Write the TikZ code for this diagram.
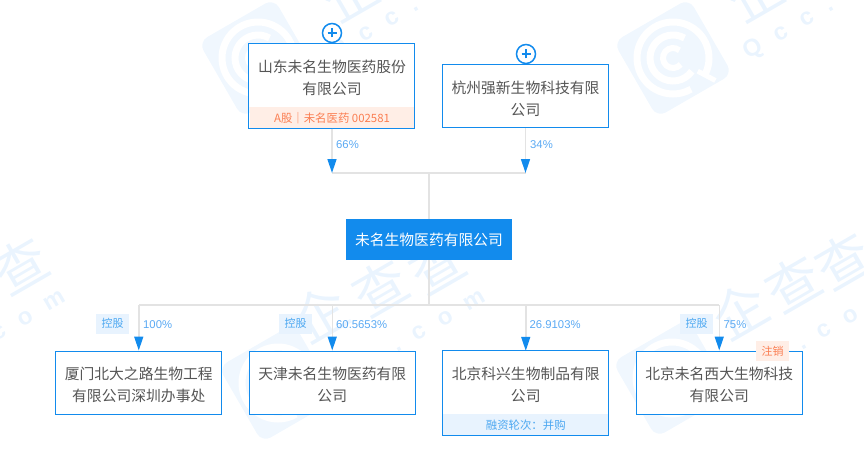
\documentclass[tikz,border=0pt]{standalone}
\usepackage{fontspec}
\setmainfont{Liberation Sans}
\newfontfamily\cjk{Noto Sans CJK SC}
\usetikzlibrary{arrows.meta}
\definecolor{qblue}{HTML}{128BED}
\definecolor{qtext}{HTML}{555555}
\definecolor{qline}{HTML}{E3E3E3}
\definecolor{qpct}{HTML}{5AA9F3}
\definecolor{qorange}{HTML}{FB7E52}
\definecolor{qorangebg}{HTML}{FFEEE6}
\definecolor{qbluebg}{HTML}{E8F3FE}
\definecolor{qmark}{HTML}{F0F7FE}
\definecolor{qmarktext}{HTML}{EAF4FE}
\tikzset{
    namebox/.style={minimum width=166pt, minimum height=63pt, inner sep=0pt, text width=152pt, text height=11pt, text depth=17pt, align=center, text=qtext, font=\cjk\fontsize{14.8}{22.4}\selectfont},
    framed/.style={namebox, draw=qblue, line width=1pt, fill=white},
    stripbox/.style={minimum width=165pt, minimum height=21pt, inner sep=0pt, font=\cjk\fontsize{11.4}{13}\selectfont},
    link/.style={draw=qline, line width=1.5pt},
    arrowlink/.style={link, -{Triangle[width=9pt, length=14pt, color=qblue]}},
    pct/.style={text=qpct, font=\fontsize{11.3}{13}\selectfont, inner sep=0pt, anchor=west},
    holdtag/.style={fill=qbluebg, text=qblue!75, minimum width=33pt, minimum height=20pt, inner sep=0pt, font=\cjk\fontsize{11}{13}\selectfont},
    plusmark/.style={circle, draw=qblue, fill=white, line width=1.5pt, minimum size=19pt, inner sep=0pt, path picture={
        \draw[qblue, line width=1.5pt] (path picture bounding box.center) ++(-4.5pt,0) -- ++(9pt,0);
        \draw[qblue, line width=1.5pt] (path picture bounding box.center) ++(0,-4.5pt) -- ++(0,9pt);}},
    markword/.style={text=qmarktext, inner sep=0pt, font=\fontsize{24}{24}\selectfont\bfseries\addfontfeature{LetterSpace=66}, rotate=30},
    markglyph/.style={text=qmarktext, inner sep=0pt, font=\cjk\fontsize{54}{54}\selectfont, rotate=30},
    markpad/.style={fill=qmark, rounded corners=10pt, minimum size=87pt, inner sep=0pt, rotate=30},
    markring/.style={draw=white, line width=7pt}
}
\begin{document}
\begin{tikzpicture}[x=1pt, y=-1pt, node distance=193.5pt]
    \useasboundingbox (0,0) rectangle (864,468);
    % watermark
    \foreach \px/\py/\pname in {258/58/A, 673/58/B, 278/383/C, 672/378/D} {
        \node (pad\pname) [markpad] at (\px,\py) {};
        \draw[markring] (pad\pname.center) ++(-30:36pt) arc[start angle=-30, end angle=300, radius=36pt];
        \draw[markring] (pad\pname.center) ++(-35:23pt) arc[start angle=-35, end angle=-300, radius=23pt];
        \draw[markring, line width=6pt] (pad\pname.center) ++(-40:10pt) arc[start angle=-40, end angle=-310, radius=10pt];
        \draw[markring, line width=5pt] (pad\pname.center) ++(-28:28pt) -- ++(-28:20pt);
    }
    \foreach \gx/\gy/\gname/\gtext in {350/-8/a/企, 755/-8/b/企, 20/265/c/查, 320/313/d/企, 380/287/e/查, 437/265/f/查, 740/310/g/企, 793/283/h/查, 843/260/i/查} {
        \node (glyph\gname) [markglyph] at (\gx,\gy) {\gtext};
    }
    \foreach \wx/\wy/\wname in {416/5/a, 831/5/b, -21/345/c, 399/345/d, 804/343/e} {
        \node (word\wname) [markword] at (\wx,\wy) {Qcc.com};
    }

    % lower row
    \node (sub1) [framed] at (138.75,382.5) {厦门北大之路生物工程\\有限公司深圳办事处};
    \node (sub2) [framed, right of=sub1] {天津未名生物医药有限\\公司};
    \node (sub3) [namebox, right of=sub2, fill=white] {北京科兴生物制品有限\\公司};
    \node (sub4) [framed, right of=sub3] {北京未名西大生物科技\\有限公司};
    \node (tag3) [stripbox, fill=qbluebg, text=qblue!75, anchor=north] at (sub3.south) {融资轮次：并购};
    \draw[qblue, line width=1pt] (sub3.north west) rectangle (tag3.south east);

    % company
    \node (main) [namebox, minimum height=41pt, text height=14pt, text depth=2pt, fill=qblue, text=white] at (429,239.5) {未名生物医药有限公司};

    % upper row
    \node (holder1) [namebox, fill=white] at (332,75.5) {山东未名生物医药股份\\有限公司};
    \node (tag1) [stripbox, fill=qorangebg, text=qorange, anchor=north] at (holder1.south) {A{\cjk 股｜未名医药} 002581};
    \draw[qblue, line width=1pt] (holder1.north west) rectangle (tag1.south east);
    \node (holder2) [framed, right of=holder1, yshift=-21pt] {杭州强新生物科技有限\\公司};
    \node (plus1) [plusmark] at (332,33) {};
    \node (plus2) [plusmark] at (526,54) {};

    % joints
    \coordinate (topA) at (holder1 |- 0,173);
    \coordinate (topB) at (holder2 |- 0,173);
    \coordinate (topC) at (main |- 0,173);
    \coordinate (lowC) at (main |- 0,305);
    \coordinate (low1) at (sub1 |- 0,305);
    \coordinate (low2) at (sub2 |- 0,305);
    \coordinate (low3) at (sub3 |- 0,305);
    \coordinate (low4) at (sub4 |- 0,305);

    \draw[link] (topA) -- (topB);
    \draw[link] (topC) -- (main);
    \draw[link] (main) -- (lowC);
    \draw[link] (low1) -- (low4);
    \draw[arrowlink] (tag1.south) -- (topA);
    \draw[arrowlink] (holder2) -- (topB);
    \draw[arrowlink] (low1) -- (sub1);
    \draw[arrowlink] (low2) -- (sub2);
    \draw[arrowlink] (low3) -- (sub3);
    \draw[arrowlink] (low4) -- (sub4);

    % percentages and tags
    \node (pctA) [pct] at (336,144.5) {66\%};
    \node (pctB) [pct] at (530,144.5) {34\%};
    \node (pct1) [pct] at (143,324.5) {100\%};
    \node (pct2) [pct] at (336,324.5) {60.5653\%};
    \node (pct3) [pct] at (529.5,324.5) {26.9103\%};
    \node (pct4) [pct] at (723.5,324.5) {75\%};
    \node (hold1) [holdtag] at (112.5,323.5) {控股};
    \node (hold2) [holdtag] at (295.5,323.5) {控股};
    \node (hold4) [holdtag] at (696.5,323.5) {控股};
    \node (void4) [holdtag, fill=qorangebg, text=qorange] at (772.5,351) {注销};
\end{tikzpicture}
\end{document}
